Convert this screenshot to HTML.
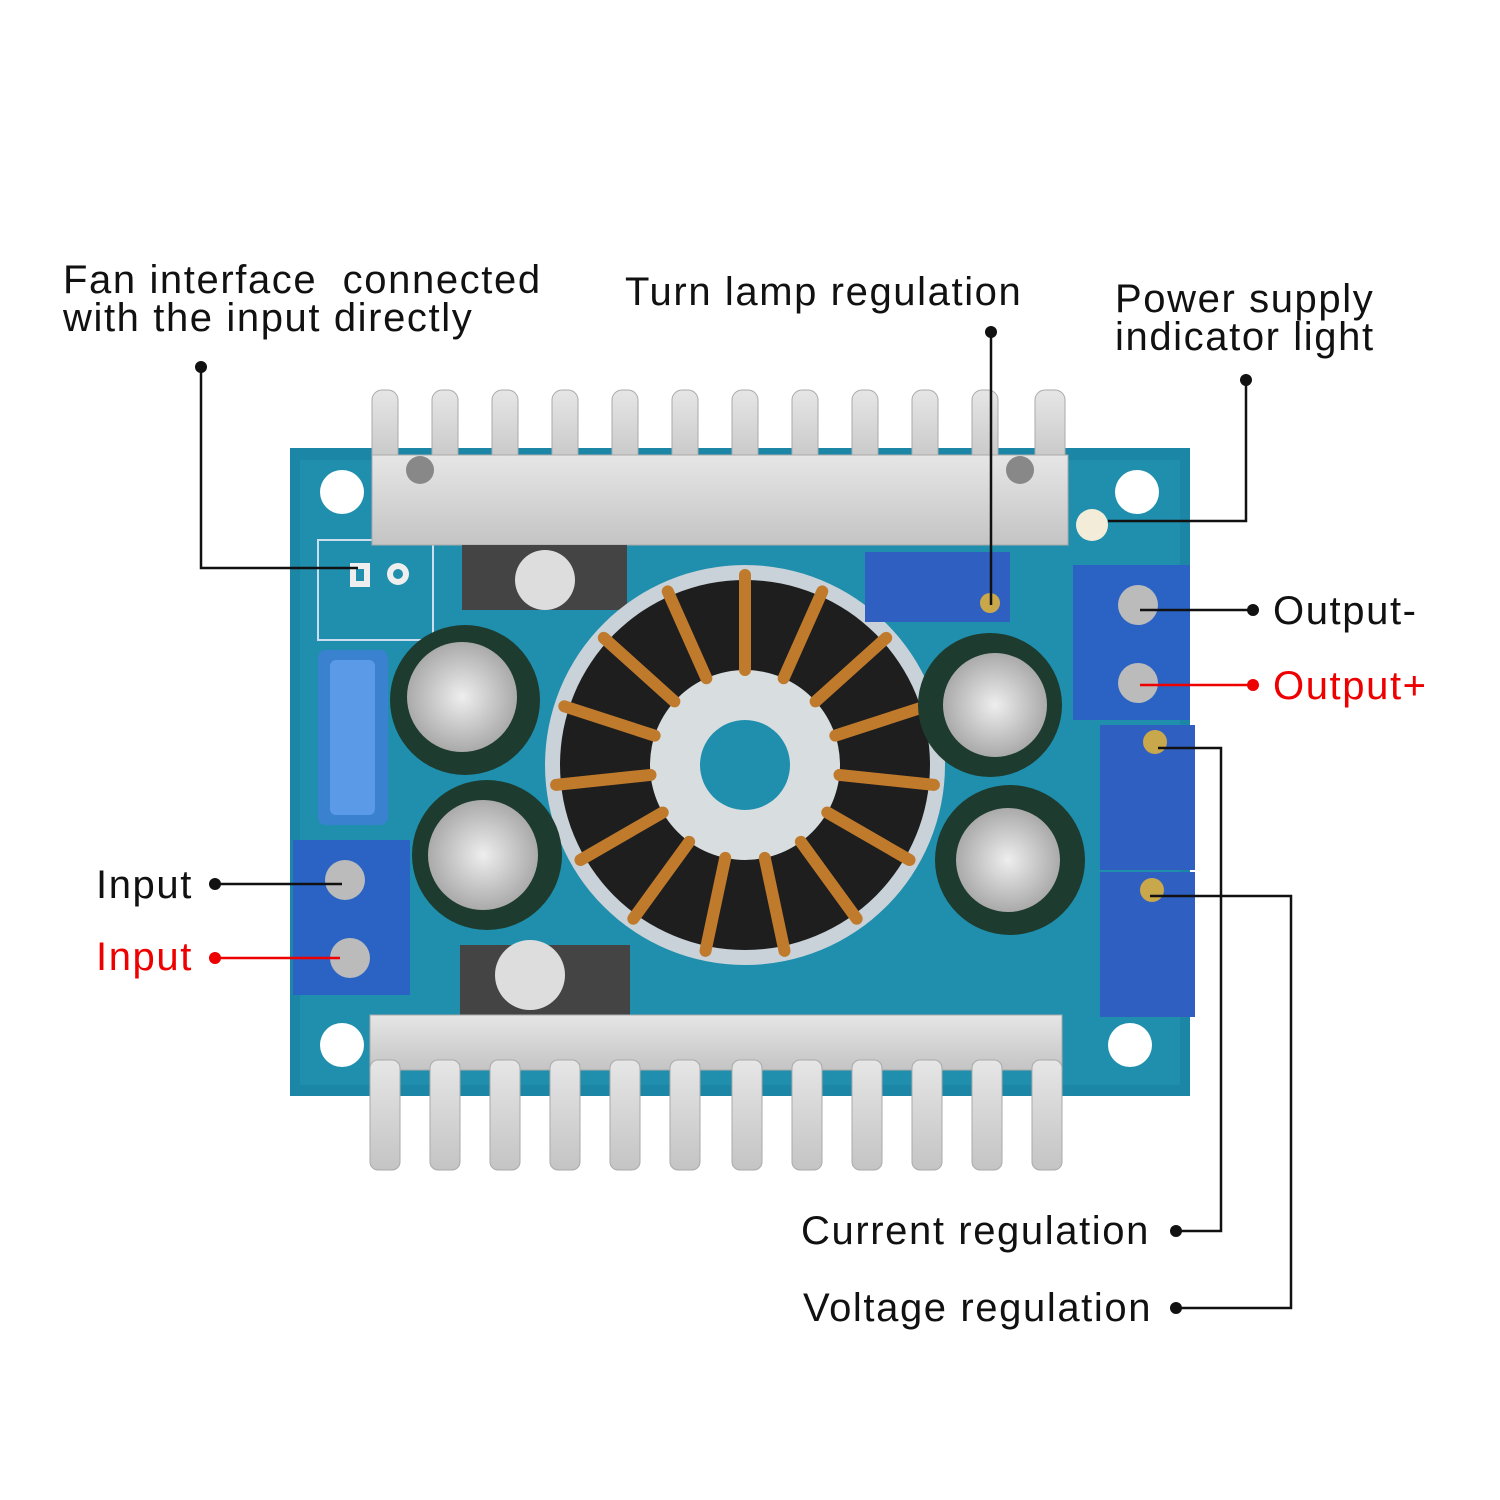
<!DOCTYPE html>
<html><head><meta charset="utf-8"><style>
html,body{margin:0;padding:0;background:#fff}
svg{display:block}
text{font-family:"Liberation Sans",Arial,sans-serif;font-size:40px;fill:#111;letter-spacing:1.6px}
</style></head><body>
<svg width="1500" height="1500" viewBox="0 0 1500 1500">
<defs>
<radialGradient id="cap" cx="50%" cy="50%" r="50%"><stop offset="0" stop-color="#eee"/><stop offset="1" stop-color="#aaa"/></radialGradient>
<linearGradient id="hs" x1="0" y1="0" x2="0" y2="1"><stop offset="0" stop-color="#e6e6e6"/><stop offset="1" stop-color="#c4c4c4"/></linearGradient>
</defs>
<rect width="1500" height="1500" fill="#fff"/>
<rect x="290" y="448" width="900" height="648" fill="#1b86a6"/>
<rect x="300" y="460" width="880" height="625" fill="#1f8fad"/>
<circle cx="342" cy="492" r="22" fill="#fff"/>
<circle cx="1137" cy="492" r="22" fill="#fff"/>
<circle cx="342" cy="1045" r="22" fill="#fff"/>
<circle cx="1130" cy="1045" r="22" fill="#fff"/>
<rect x="318" y="540" width="115" height="100" fill="none" stroke="#cde" stroke-width="2"/>
<rect x="350" y="563" width="20" height="24" fill="#eee"/><rect x="356" y="569" width="8" height="12" fill="#1f8fad"/>
<circle cx="398" cy="574" r="11" fill="#eee"/><circle cx="398" cy="574" r="5" fill="#1f8fad"/>
<rect x="318" y="650" width="70" height="175" rx="8" fill="#3f7fd6" opacity="0.85"/>
<rect x="330" y="660" width="45" height="155" rx="6" fill="#5b9ae6"/>
<g fill="url(#hs)" stroke="#aaa">
<rect x="372" y="390" width="26" height="80" rx="10"/><rect x="432" y="390" width="26" height="80" rx="10"/><rect x="492" y="390" width="26" height="80" rx="10"/><rect x="552" y="390" width="26" height="80" rx="10"/><rect x="612" y="390" width="26" height="80" rx="10"/><rect x="672" y="390" width="26" height="80" rx="10"/><rect x="732" y="390" width="26" height="80" rx="10"/><rect x="792" y="390" width="26" height="80" rx="10"/><rect x="852" y="390" width="26" height="80" rx="10"/><rect x="912" y="390" width="26" height="80" rx="10"/><rect x="972" y="390" width="26" height="80" rx="10"/><rect x="1035" y="390" width="30" height="80" rx="10"/>
<rect x="372" y="455" width="696" height="90"/>
</g>
<circle cx="420" cy="470" r="14" fill="#888"/><circle cx="1020" cy="470" r="14" fill="#888"/>
<circle cx="1092" cy="525" r="16" fill="#f2ecd8"/>
<rect x="462" y="545" width="165" height="65" fill="#444"/><circle cx="545" cy="580" r="30" fill="#ddd"/>
<rect x="460" y="945" width="170" height="70" fill="#444"/><circle cx="530" cy="975" r="35" fill="#ddd"/>
<g fill="url(#hs)" stroke="#aaa">
<rect x="370" y="1015" width="692" height="55"/>
<rect x="370" y="1060" width="30" height="110" rx="8"/><rect x="430" y="1060" width="30" height="110" rx="8"/><rect x="490" y="1060" width="30" height="110" rx="8"/><rect x="550" y="1060" width="30" height="110" rx="8"/><rect x="610" y="1060" width="30" height="110" rx="8"/><rect x="670" y="1060" width="30" height="110" rx="8"/><rect x="732" y="1060" width="30" height="110" rx="8"/><rect x="792" y="1060" width="30" height="110" rx="8"/><rect x="852" y="1060" width="30" height="110" rx="8"/><rect x="912" y="1060" width="30" height="110" rx="8"/><rect x="972" y="1060" width="30" height="110" rx="8"/><rect x="1032" y="1060" width="30" height="110" rx="8"/>
</g>
<circle cx="745" cy="765" r="200" fill="#c8d2d8"/>
<circle cx="745" cy="765" r="185" fill="#1e1e1e"/>
<circle cx="745" cy="765" r="95" fill="#d8dde0"/>
<circle cx="745" cy="765" r="45" fill="#1f8fad"/>
<g stroke="#c07a2c" stroke-width="12" fill="none" stroke-linecap="round">
<line x1="745" y1="575" x2="745" y2="670" transform="rotate(0 745 765)"/>
<line x1="745" y1="575" x2="745" y2="670" transform="rotate(24 745 765)"/>
<line x1="745" y1="575" x2="745" y2="670" transform="rotate(48 745 765)"/>
<line x1="745" y1="575" x2="745" y2="670" transform="rotate(72 745 765)"/>
<line x1="745" y1="575" x2="745" y2="670" transform="rotate(96 745 765)"/>
<line x1="745" y1="575" x2="745" y2="670" transform="rotate(120 745 765)"/>
<line x1="745" y1="575" x2="745" y2="670" transform="rotate(144 745 765)"/>
<line x1="745" y1="575" x2="745" y2="670" transform="rotate(168 745 765)"/>
<line x1="745" y1="575" x2="745" y2="670" transform="rotate(192 745 765)"/>
<line x1="745" y1="575" x2="745" y2="670" transform="rotate(216 745 765)"/>
<line x1="745" y1="575" x2="745" y2="670" transform="rotate(240 745 765)"/>
<line x1="745" y1="575" x2="745" y2="670" transform="rotate(264 745 765)"/>
<line x1="745" y1="575" x2="745" y2="670" transform="rotate(288 745 765)"/>
<line x1="745" y1="575" x2="745" y2="670" transform="rotate(312 745 765)"/>
<line x1="745" y1="575" x2="745" y2="670" transform="rotate(336 745 765)"/>
</g>
<g>
<circle cx="465" cy="700" r="75" fill="#1d3b2e"/><circle cx="462" cy="697" r="55" fill="url(#cap)"/>
<circle cx="487" cy="855" r="75" fill="#1d3b2e"/><circle cx="483" cy="855" r="55" fill="url(#cap)"/>
<circle cx="990" cy="705" r="72" fill="#1d3b2e"/><circle cx="995" cy="705" r="52" fill="url(#cap)"/>
<circle cx="1010" cy="860" r="75" fill="#1d3b2e"/><circle cx="1008" cy="860" r="52" fill="url(#cap)"/>
</g>
<rect x="865" y="552" width="145" height="70" fill="#2f5fc0"/>
<circle cx="990" cy="603" r="10" fill="#c9a84c"/>
<rect x="1073" y="565" width="117" height="155" fill="#2b63c4"/>
<circle cx="1138" cy="605" r="20" fill="#bbb"/><circle cx="1138" cy="683" r="20" fill="#bbb"/>
<rect x="1100" y="725" width="95" height="145" fill="#2f5fc0"/>
<rect x="1100" y="872" width="95" height="145" fill="#2f5fc0"/>
<circle cx="1155" cy="742" r="12" fill="#c9a84c"/><circle cx="1152" cy="890" r="12" fill="#c9a84c"/>
<rect x="293" y="840" width="117" height="155" fill="#2b63c4"/>
<circle cx="345" cy="880" r="20" fill="#bbb"/><circle cx="350" cy="958" r="20" fill="#bbb"/>
<g stroke="#111" stroke-width="2.5" fill="none">
<polyline points="201,367 201,568 358,568"/>
<polyline points="991,332 991,605"/>
<polyline points="1246,380 1246,521 1108,521"/>
<line x1="1140" y1="610" x2="1253" y2="610"/>
<line x1="218" y1="884" x2="342" y2="884"/>
<polyline points="1158,748 1221,748 1221,1231 1176,1231"/>
<polyline points="1150,896 1291,896 1291,1308 1176,1308"/>
</g>
<g stroke="#e00" stroke-width="2.5"><line x1="1140" y1="685" x2="1253" y2="685"/><line x1="218" y1="958" x2="340" y2="958"/></g>
<g fill="#111"><circle cx="201" cy="367" r="6"/><circle cx="991" cy="332" r="6"/><circle cx="1246" cy="380" r="6"/><circle cx="1253" cy="610" r="6"/><circle cx="215" cy="884" r="6"/><circle cx="1176" cy="1231" r="6"/><circle cx="1176" cy="1308" r="6"/></g>
<g fill="#e00"><circle cx="1253" cy="685" r="6"/><circle cx="215" cy="958" r="6"/></g>
<text x="63" y="293" xml:space="preserve">Fan interface  connected</text>
<text x="63" y="331">with the input directly</text>
<text x="625" y="305">Turn lamp regulation</text>
<text x="1115" y="312">Power supply</text>
<text x="1115" y="350">indicator light</text>
<text x="1273" y="624">Output-</text>
<text x="1273" y="699" style="fill:#e00">Output+</text>
<text x="96" y="898">Input</text>
<text x="96" y="970" style="fill:#e00">Input</text>
<text x="801" y="1244">Current regulation</text>
<text x="803" y="1321">Voltage regulation</text>
</svg>
</body></html>
